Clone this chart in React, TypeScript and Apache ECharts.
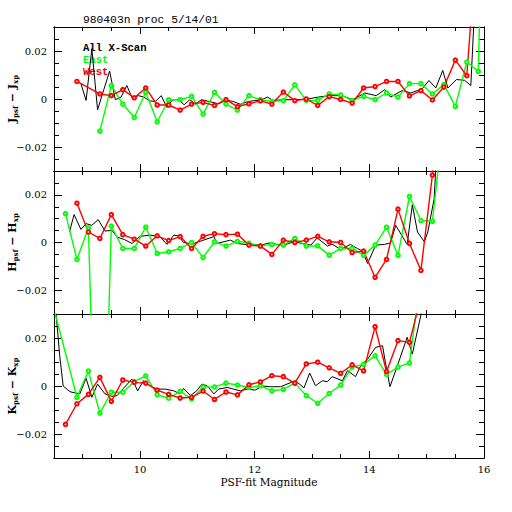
import React, { useEffect, useRef } from "react";
import * as echarts from "echarts";

// Magnitude bins shared by the East / West series
const MAG = [
  8.5, 8.7, 8.9, 9.1, 9.3, 9.5, 9.7, 9.9, 10.1, 10.3, 10.5, 10.7, 10.9, 11.1, 11.3, 11.5, 11.7, 11.9, 12.1, 12.3,
  12.5, 12.7, 12.9, 13.1, 13.3, 13.5, 13.7, 13.9, 14.1, 14.3, 14.5, 14.7, 14.9, 15.1, 15.3, 15.5, 15.7, 15.9, 16.1,
];

// J panel
const J_WEST = [
  null, null, 0.0073, null, 0.0021, 0.0014, 0.0039, 0.0005, 0.0046, -0.0025, -0.0025, -0.0046, -0.0021, -0.0014,
  -0.0027, -0.0003, -0.0032, -0.002, -0.0008, -0.0021, 0.0029, -0.0007, 0.0, -0.0027, 0.001, -0.0002, -0.0017, 0.0046,
  0.0052, 0.0073, 0.0073, 0.0013, 0.0035, -0.0004, 0.005, 0.0162, 0.0097, 0.074, null,
];
const J_EAST = [
  null, null, null, null, -0.0134, 0.0056, -0.0021, -0.0077, 0.0028, -0.0095, -0.0003, -0.0003, 0.0011, -0.0063,
  0.0028, -0.0021, -0.0046, 0.0014, -0.0003, -0.001, -0.0007, 0.0059, -0.0006, -0.0006, 0.0021, 0.0017, -0.0006,
  0.0011, -0.0003, 0.0025, 0.0008, 0.0064, 0.0064, 0.0021, 0.006, -0.0031, 0.0154, 0.0115, 0.2,
];
const J_ALL_MAG = [
  8.97, 9.06, 9.16, 9.26, 9.37, 9.47, 9.57, 9.67, 9.77, 9.87, 9.97, 10.07, 10.17, 10.27, 10.37, 10.47, 10.57, 10.67,
  10.77, 10.87, 10.97, 11.07, 11.2, 11.37, 11.5, 11.62, 11.75, 11.87, 12.0, 12.1, 12.22, 12.32, 12.51, 12.71, 12.92,
  13.11, 13.31, 13.52, 13.71, 13.92, 14.12, 14.27, 14.37, 14.58, 14.72, 14.92, 15.04, 15.16, 15.28, 15.37, 15.52,
  15.66, 15.77, 15.88,
];
const J_ALL = [
  0.0064, -0.0006, 0.021, -0.0045, 0.004, 0.0116, -0.0003, 0.0008, 0.0056, 0.0001, 0.0014, 0.0008, -0.0008, -0.001,
  0.0014, -0.0035, -0.0003, -0.0003, -0.0024, -0.0003, -0.0021, -0.0003, -0.001, -0.002, -0.0005, -0.001, -0.0022,
  -0.0012, -0.0006, -0.0006, 0.0008, -0.0006, -0.0003, -0.0003, 0.0, 0.0008, 0.0014, 0.0014, -0.0003, 0.0025, 0.0014,
  0.0039, 0.0008, 0.0036, 0.0025, 0.0042, 0.0077, 0.0046, 0.0119, 0.0046, 0.0081, 0.0078, 0.0056, 0.06,
];

// H panel
const H_WEST = [
  null, null, 0.0165, 0.0044, 0.0017, 0.0117, 0.0033, 0.0014, -0.0015, 0.0028, 0.0008, 0.0025, -0.0025, 0.0026,
  0.0037, 0.0033, 0.0035, -0.0011, -0.0015, -0.005, 0.001, 0.0, 0.001, 0.0026, 0.0003, 0.0, -0.0042, -0.0036, -0.0146,
  -0.0071, 0.014, -0.0004, -0.0117, 0.0283, 0.08, null, null, null, null,
];
const H_EAST = [
  null, 0.0121, -0.0071, 0.0061, -0.16, 0.0069, -0.0025, -0.0025, 0.0065, -0.0046, -0.0039, -0.0025, 0.0, -0.0063,
  0.0003, -0.0015, 0.0005, -0.0003, -0.0014, -0.0008, -0.0011, 0.0017, -0.0015, -0.0014, -0.0053, -0.0025, -0.0025,
  -0.0054, -0.0011, 0.0064, -0.0054, 0.0193, 0.0092, 0.0089, 0.052, null, null, null, null,
];
const H_ALL_MAG = [
  8.77, 8.85, 8.97, 9.06, 9.16, 9.27, 9.39, 9.51, 9.6, 9.73, 9.86, 10.0, 10.18, 10.35, 10.47, 10.59, 10.67, 10.76,
  10.91, 11.11, 11.29, 11.34, 11.58, 11.69, 11.93, 12.16, 12.25, 12.39, 12.51, 12.68, 12.83, 12.98, 13.09, 13.27,
  13.35, 13.5, 13.67, 13.79, 13.88, 13.97, 14.11, 14.26, 14.37, 14.46, 14.66, 14.75, 14.84, 14.96, 15.02, 15.13,
  15.25,
];
const H_ALL = [
  0.0044, 0.0117, 0.0055, 0.0079, 0.0072, 0.0096, 0.0048, 0.0051, 0.0023, 0.0012, -0.0004, 0.0026, 0.0031, 0.0024,
  -0.0008, 0.0031, 0.0028, 0.0, -0.0006, 0.001, 0.0025, -0.0004, 0.001, -0.0004, -0.0011, -0.0008, -0.0002, -0.0008,
  -0.0011, 0.0003, -0.0004, -0.0011, 0.0019, -0.0015, -0.0007, -0.0029, -0.0008, -0.0025, -0.0036, -0.0088, -0.0011,
  -0.0008, -0.0002, 0.0072, -0.0008, 0.0158, 0.0044, 0.0003, 0.0044, 0.0183, 0.07,
];

// K panel
const K_WEST = [
  null, -0.016, -0.0074, -0.0035, 0.0036, -0.0064, 0.0025, 0.0015, 0.0012, -0.0017, -0.0035, -0.005, -0.0047, -0.0021,
  -0.0056, -0.0025, -0.0037, 0.0005, 0.0017, 0.0043, 0.0039, 0.0012, 0.0092, 0.0099, 0.0076, 0.0053, 0.0088, 0.0063,
  0.0247, 0.006, 0.0189, 0.0182, 0.037, 0.08, null, null, null, null, null,
];
const K_EAST = [
  0.032, null, -0.0047, 0.0062, -0.0113, -0.0026, -0.0026, 0.0018, 0.0042, -0.0036, -0.0051, -0.0022, -0.0054,
  -0.0004, -0.0004, 0.0012, 0.0004, -0.0006, 0.0001, -0.002, -0.0014, 0.0012, -0.004, -0.0072, -0.0031, 0.0004, 0.008,
  0.009, 0.0126, 0.0048, 0.0079, 0.0096, 0.046, null, null, null, null, null, null,
];
const K_ALL_MAG = [
  8.5, 8.6, 8.66, 8.78, 8.95, 9.06, 9.16, 9.26, 9.39, 9.51, 9.6, 9.71, 9.86, 9.96, 10.06, 10.18, 10.3, 10.44, 10.59,
  10.7, 10.76, 10.88, 10.99, 11.08, 11.17, 11.29, 11.37, 11.52, 11.63, 11.75, 11.87, 12.01, 12.13, 12.28, 12.45, 12.71,
  12.86, 12.96, 13.06, 13.18, 13.27, 13.35, 13.53, 13.62, 13.76, 13.85, 13.97, 14.11, 14.23, 14.3, 14.36, 14.49, 14.66,
  14.75, 14.9, 15.0,
];
const K_ALL = [
  0.04, 0.0126, 0.0, -0.0024, -0.0033, 0.0032, -0.0047, 0.0008, -0.0033, -0.0043, -0.004, -0.001, 0.0029, -0.002,
  0.0022, 0.0, -0.0013, -0.0013, -0.002, -0.0033, -0.001, -0.004, -0.002, 0.0008, 0.0001, -0.0033, -0.0013, -0.0006,
  -0.0013, -0.002, -0.0013, -0.0017, 0.0, -0.0003, -0.0003, 0.0022, -0.0008, 0.0054, 0.0001, 0.0022, 0.0018, 0.0039,
  0.0022, 0.0064, 0.0039, 0.0085, 0.0112, 0.0161, 0.0168, 0.0071, -0.0003, 0.0085, 0.0203, 0.0133, 0.0296, 0.06,
];

// Axis ticks and labels
const X_MAJOR = [10, 12, 14];
const X_MINOR = [9, 9.5, 10.5, 11, 11.5, 12.5, 13, 13.5, 14.5, 15, 15.5];
const X_LABELS = [10, 12, 14, 16];
const Y_MAJOR = [-0.02, 0, 0.02];
const Y_MINOR = [-0.025, -0.015, -0.01, -0.005, 0.005, 0.01, 0.015, 0.025];

const TITLE = "980403n proc 5/14/01";
const LEGEND = ["All X-Scan", "East", "West"];
const BANDS = ["J", "H", "K"];
const X_TITLE = "PSF-fit Magnitude";

const COLORS = { all: "#000000", east: "#00ff00", west: "#ff0000" };

const pairs = (xs: number[], ys: (number | null)[]) =>
  xs.map((x, i) => [x, ys[i]]).filter((d) => d[1] !== null && d[1] !== undefined);

export default function App() {
  const ref = useRef<HTMLDivElement>(null);

  useEffect(() => {
    if (!ref.current) return;
    const chart = echarts.init(ref.current, null, { renderer: "svg" });

    const tops = [27, 171, 314];
    const heights = [144, 143, 144];
    const grids = tops.map((t, i) => ({ left: 54, right: 28, top: t, height: heights[i] }));

    const font = "DejaVu Serif";
    const line = { show: true, onZero: false, lineStyle: { color: "#000", width: 1 } };

    const xAxes: any[] = [];
    const yAxes: any[] = [];
    for (let g = 0; g < 3; g++) {
      const mk = (position: string, values: number[], len: number, labels: boolean) => ({
        type: "value",
        gridIndex: g,
        min: 8.5,
        max: 16,
        position,
        axisLine: line,
        splitLine: { show: false },
        axisTick: { show: true, inside: true, length: len, customValues: values, lineStyle: { color: "#000", width: 1 } },
        axisLabel: labels
          ? {
              show: true,
              customValues: X_LABELS,
              margin: 6,
              color: "#000",
              fontFamily: font,
              fontSize: 10,
              showMaxLabel: true,
              showMinLabel: true,
              formatter: (v: number) => String(v),
            }
          : { show: false },
      });
      xAxes.push(mk("bottom", X_MAJOR, 7, g === 2));
      xAxes.push(mk("bottom", X_MINOR, 4, false));
      xAxes.push(mk("top", X_MAJOR, 7, false));
      xAxes.push(mk("top", X_MINOR, 4, false));

      const mky = (position: string, values: number[], len: number, labels: boolean) => ({
        type: "value",
        gridIndex: g,
        min: -0.03,
        max: 0.03,
        position,
        axisLine: line,
        splitLine: { show: false },
        axisTick: { show: true, inside: true, length: len, customValues: values, lineStyle: { color: "#000", width: 1 } },
        axisLabel: labels
          ? {
              show: true,
              customValues: Y_MAJOR,
              margin: 7,
              color: "#000",
              fontFamily: font,
              fontSize: 10,
              formatter: (v: number) => (Math.abs(v) < 1e-9 ? "0" : v.toFixed(2).replace("-", "\u2212")),
            }
          : { show: false },
      });
      yAxes.push(mky("left", Y_MAJOR, 8, true));
      yAxes.push(mky("left", Y_MINOR, 5, false));
      yAxes.push(mky("right", Y_MAJOR, 8, false));
      yAxes.push(mky("right", Y_MINOR, 5, false));
    }

    const panels = [
      { all: [J_ALL_MAG, J_ALL], east: J_EAST, west: J_WEST },
      { all: [H_ALL_MAG, H_ALL], east: H_EAST, west: H_WEST },
      { all: [K_ALL_MAG, K_ALL], east: K_EAST, west: K_WEST },
    ];

    const series: any[] = [];
    panels.forEach((p, g) => {
      const base = { type: "line", xAxisIndex: g * 4, yAxisIndex: g * 4, clip: true };
      series.push({
        ...base,
        name: LEGEND[0],
        data: pairs(p.all[0] as number[], p.all[1] as number[]),
        showSymbol: false,
        symbol: "none",
        lineStyle: { color: COLORS.all, width: 1 },
      });
      series.push({
        ...base,
        name: LEGEND[1],
        data: pairs(MAG, p.east),
        symbol: "emptyCircle",
        symbolSize: 3.5,
        itemStyle: { color: COLORS.east, borderColor: COLORS.east, borderWidth: 2 },
        lineStyle: { color: COLORS.east, width: 1.4 },
      });
      series.push({
        ...base,
        name: LEGEND[2],
        data: pairs(MAG, p.west),
        symbol: "emptyCircle",
        symbolSize: 3.5,
        itemStyle: { color: COLORS.west, borderColor: COLORS.west, borderWidth: 2 },
        lineStyle: { color: COLORS.west, width: 1.4 },
      });
    });

    const mono = "Liberation Mono";
    const graphic: any[] = [
      {
        type: "text",
        left: 83,
        top: 14,
        style: { text: TITLE, font: `11.3px ${mono}`, fill: "#000" },
      },
      {
        type: "text",
        left: 83,
        top: 42,
        style: { text: LEGEND[0], font: `bold 10.6px ${mono}`, fill: COLORS.all },
      },
      {
        type: "text",
        left: 83,
        top: 54,
        style: { text: LEGEND[1], font: `bold 10.6px ${mono}`, fill: COLORS.east },
      },
      {
        type: "text",
        left: 83,
        top: 66,
        style: { text: LEGEND[2], font: `bold 10.6px ${mono}`, fill: COLORS.west },
      },
      {
        type: "text",
        x: 269,
        y: 482,
        style: {
          text: X_TITLE,
          font: `10.5px ${font}`,
          fill: "#000",
          align: "center",
          verticalAlign: "middle",
        },
      },
    ];
    BANDS.forEach((b, g) => {
      graphic.push({
        type: "text",
        x: 12,
        y: tops[g] + heights[g] / 2,
        rotation: Math.PI / 2,
        style: {
          text: `{m|${b}}{s|psf}{m| \u2212 ${b}}{s|xp}`,
          align: "center",
          verticalAlign: "middle",
          fill: "#000",
          rich: {
            m: { fontFamily: font, fontSize: 11, fontWeight: "bold", lineHeight: 14, fill: "#000" },
            s: { fontFamily: font, fontSize: 7, fontWeight: "bold", lineHeight: 14, verticalAlign: "bottom", fill: "#000" },
          },
        },
      });
    });

    chart.setOption({
      animation: false,
      backgroundColor: "#ffffff",
      grid: grids,
      xAxis: xAxes,
      yAxis: yAxes,
      series,
      graphic,
    });

    return () => chart.dispose();
  }, []);

  return (
    <div
      ref={ref}
      style={{ position: "absolute", left: 0, top: 0, width: 512, height: 512, background: "#fff" }}
    />
  );
}
